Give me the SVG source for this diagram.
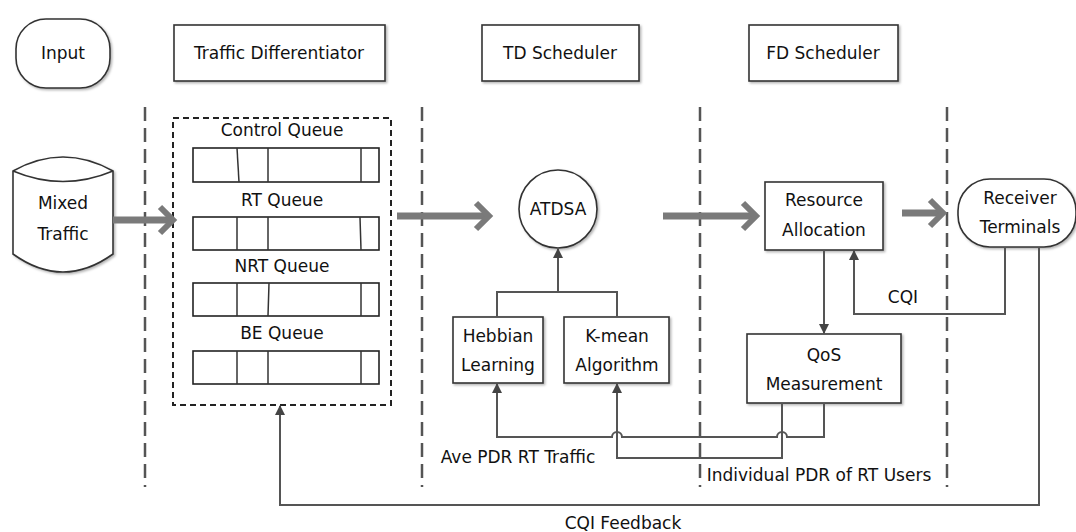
<svg xmlns="http://www.w3.org/2000/svg" width="1076" height="532" viewBox="0 0 1076 532">
  <style>
    text { font-family: "DejaVu Sans", "Liberation Sans", sans-serif; font-size: 17px; fill: #111; text-anchor: middle; }
    .box { fill: #fff; stroke: #333; stroke-width: 1.6; }
    .q { fill: #fff; stroke: #222; stroke-width: 1.6; }
    .div { stroke: #333; stroke-width: 1.5; }
    .lane { stroke: #555; stroke-width: 2.5; stroke-dasharray: 14 7; fill: none; }
    .group { fill: none; stroke: #222; stroke-width: 2; stroke-dasharray: 6 4; }
    .flow { fill: none; stroke: #7a7a7a; }
    .shaft { stroke-width: 7; }
    .head { stroke-width: 6; stroke-linejoin: miter; }
    .link { fill: none; stroke: #555; stroke-width: 2; }
  </style>
  <defs>
    <filter id="shadow" x="-10%" y="-10%" width="130%" height="130%">
      <feDropShadow dx="1.5" dy="1.5" stdDeviation="1" flood-color="#000" flood-opacity="0.3"/>
    </filter>
    <marker id="tip" viewBox="0 0 10 10" refX="9" refY="5" markerWidth="10" markerHeight="10" markerUnits="userSpaceOnUse" orient="auto">
      <path d="M0,0 L10,5 L0,10 Z" fill="#444"/>
    </marker>
  </defs>

  <rect width="1076" height="532" fill="#fff"/>

  <!-- lane separators -->
  <g id="lanes">
    <line class="lane" x1="145" y1="107" x2="145" y2="487"/>
    <line class="lane" x1="422" y1="107" x2="422" y2="487"/>
    <line class="lane" x1="700" y1="107" x2="700" y2="487"/>
    <line class="lane" x1="947" y1="107" x2="947" y2="487"/>
  </g>

  <!-- column headers -->
  <g id="hdr-input">
    <rect class="box" x="16" y="19" width="94" height="69" rx="30" filter="url(#shadow)"/>
    <text x="63" y="59">Input</text>
  </g>
  <g id="hdr-td">
    <rect class="box" x="174" y="25" width="211" height="56" filter="url(#shadow)"/>
    <text x="279" y="59">Traffic Differentiator</text>
  </g>
  <g id="hdr-tds">
    <rect class="box" x="482" y="25" width="157" height="56" filter="url(#shadow)"/>
    <text x="560" y="59">TD Scheduler</text>
  </g>
  <g id="hdr-fds">
    <rect class="box" x="749" y="25" width="149" height="56" filter="url(#shadow)"/>
    <text x="823" y="59">FD Scheduler</text>
  </g>

  <!-- mixed traffic source -->
  <g id="mixed-traffic">
    <path class="box" filter="url(#shadow)" d="M13,171 Q63,143 113,171 L113,254 Q63,290 13,254 Z"/>
    <path fill="none" stroke="#333" stroke-width="1.6" d="M13,171 Q63,192 113,171"/>
    <text x="63" y="209">Mixed</text>
    <text x="63" y="240">Traffic</text>
  </g>

  <!-- traffic differentiator queues -->
  <g id="queues">
    <rect class="group" x="173" y="118" width="218" height="287"/>
    <text x="282" y="136">Control Queue</text>
    <rect class="q" x="193" y="148" width="186" height="34"/>
    <line class="div" x1="237" y1="148" x2="239" y2="182"/>
    <line class="div" x1="268" y1="148" x2="268" y2="182" stroke="#666"/>
    <line class="div" x1="361" y1="148" x2="361" y2="182"/>
    <text x="282" y="206">RT Queue</text>
    <rect class="q" x="193" y="217" width="186" height="33"/>
    <line class="div" x1="237" y1="217" x2="237" y2="250"/>
    <line class="div" x1="268" y1="217" x2="268" y2="250" stroke="#666"/>
    <line class="div" x1="360" y1="217" x2="361" y2="250"/>
    <text x="282" y="272">NRT Queue</text>
    <rect class="q" x="193" y="283" width="186" height="33"/>
    <line class="div" x1="237" y1="283" x2="237" y2="316"/>
    <line class="div" x1="269" y1="283" x2="268" y2="316"/>
    <line class="div" x1="361" y1="283" x2="361" y2="316"/>
    <text x="282" y="339">BE Queue</text>
    <rect class="q" x="193" y="351" width="186" height="33"/>
    <line class="div" x1="237" y1="351" x2="237" y2="384"/>
    <line class="div" x1="268" y1="351" x2="268" y2="384" stroke="#666"/>
    <line class="div" x1="361" y1="351" x2="361" y2="384"/>
  </g>

  <!-- TD scheduler -->
  <g id="atdsa">
    <circle class="box" cx="558" cy="209" r="39" filter="url(#shadow)"/>
    <text x="558" y="215">ATDSA</text>
  </g>
  <g id="hebbian">
    <rect class="box" x="453" y="317" width="90" height="66" filter="url(#shadow)"/>
    <text x="498" y="342">Hebbian</text>
    <text x="498" y="371">Learning</text>
  </g>
  <g id="kmean">
    <rect class="box" x="564" y="317" width="105" height="66" filter="url(#shadow)"/>
    <text x="617" y="342">K-mean</text>
    <text x="617" y="371">Algorithm</text>
  </g>

  <!-- FD scheduler -->
  <g id="resource-allocation">
    <rect class="box" x="765" y="182" width="118" height="68" filter="url(#shadow)"/>
    <text x="824" y="206">Resource</text>
    <text x="824" y="236">Allocation</text>
  </g>
  <g id="qos">
    <rect class="box" x="747" y="334" width="154" height="69" filter="url(#shadow)"/>
    <text x="824" y="361">QoS</text>
    <text x="824" y="390">Measurement</text>
  </g>

  <!-- receivers -->
  <g id="receiver">
    <rect class="box" x="958" y="179" width="118" height="68" rx="32" filter="url(#shadow)"/>
    <text x="1020" y="204">Receiver</text>
    <text x="1020" y="233">Terminals</text>
  </g>

  <!-- connectors -->
  <g id="connectors">
    <!-- main data flow -->
    <g class="flow">
      <line class="shaft" x1="113" y1="220" x2="170" y2="220"/>
      <polyline class="head" points="160,207 173,220 160,233"/>
      <line class="shaft" x1="397" y1="216" x2="486" y2="216"/>
      <polyline class="head" points="476,203 489,216 476,229"/>
      <line class="shaft" x1="663" y1="216" x2="753" y2="216"/>
      <polyline class="head" points="743,203 756,216 743,229"/>
      <line class="shaft" x1="902" y1="213" x2="940" y2="213"/>
      <polyline class="head" points="930,200 943,213 930,226"/>
    </g>

    <!-- learning inputs to ATDSA -->
    <polyline class="link" points="497,317 497,292 617,292 617,317"/>
    <line class="link" x1="558" y1="292" x2="558" y2="249" marker-end="url(#tip)"/>

    <!-- resource allocation to QoS measurement -->
    <line class="link" x1="824" y1="250" x2="824" y2="333" marker-end="url(#tip)"/>

    <!-- CQI from receivers -->
    <polyline class="link" points="1005,247 1005,314 854,314 854,251" marker-end="url(#tip)"/>
    <text x="903" y="303">CQI</text>

    <!-- average PDR of RT traffic -->
    <path class="link" d="M824,403 L824,437 L787,437 A5,5 0 0 0 777,437 L622,437 A5,5 0 0 0 612,437 L497,437 L497,384" marker-end="url(#tip)"/>
    <text x="518" y="463">Ave PDR RT Traffic</text>

    <!-- individual PDR of RT users -->
    <polyline class="link" points="782,403 782,458 617,458 617,384" marker-end="url(#tip)"/>
    <text x="819" y="481">Individual PDR of RT Users</text>

    <!-- CQI feedback to traffic differentiator -->
    <polyline class="link" points="1039,247 1039,505 280,505 280,406" marker-end="url(#tip)"/>
    <text x="623" y="529">CQI Feedback</text>
  </g>
</svg>
